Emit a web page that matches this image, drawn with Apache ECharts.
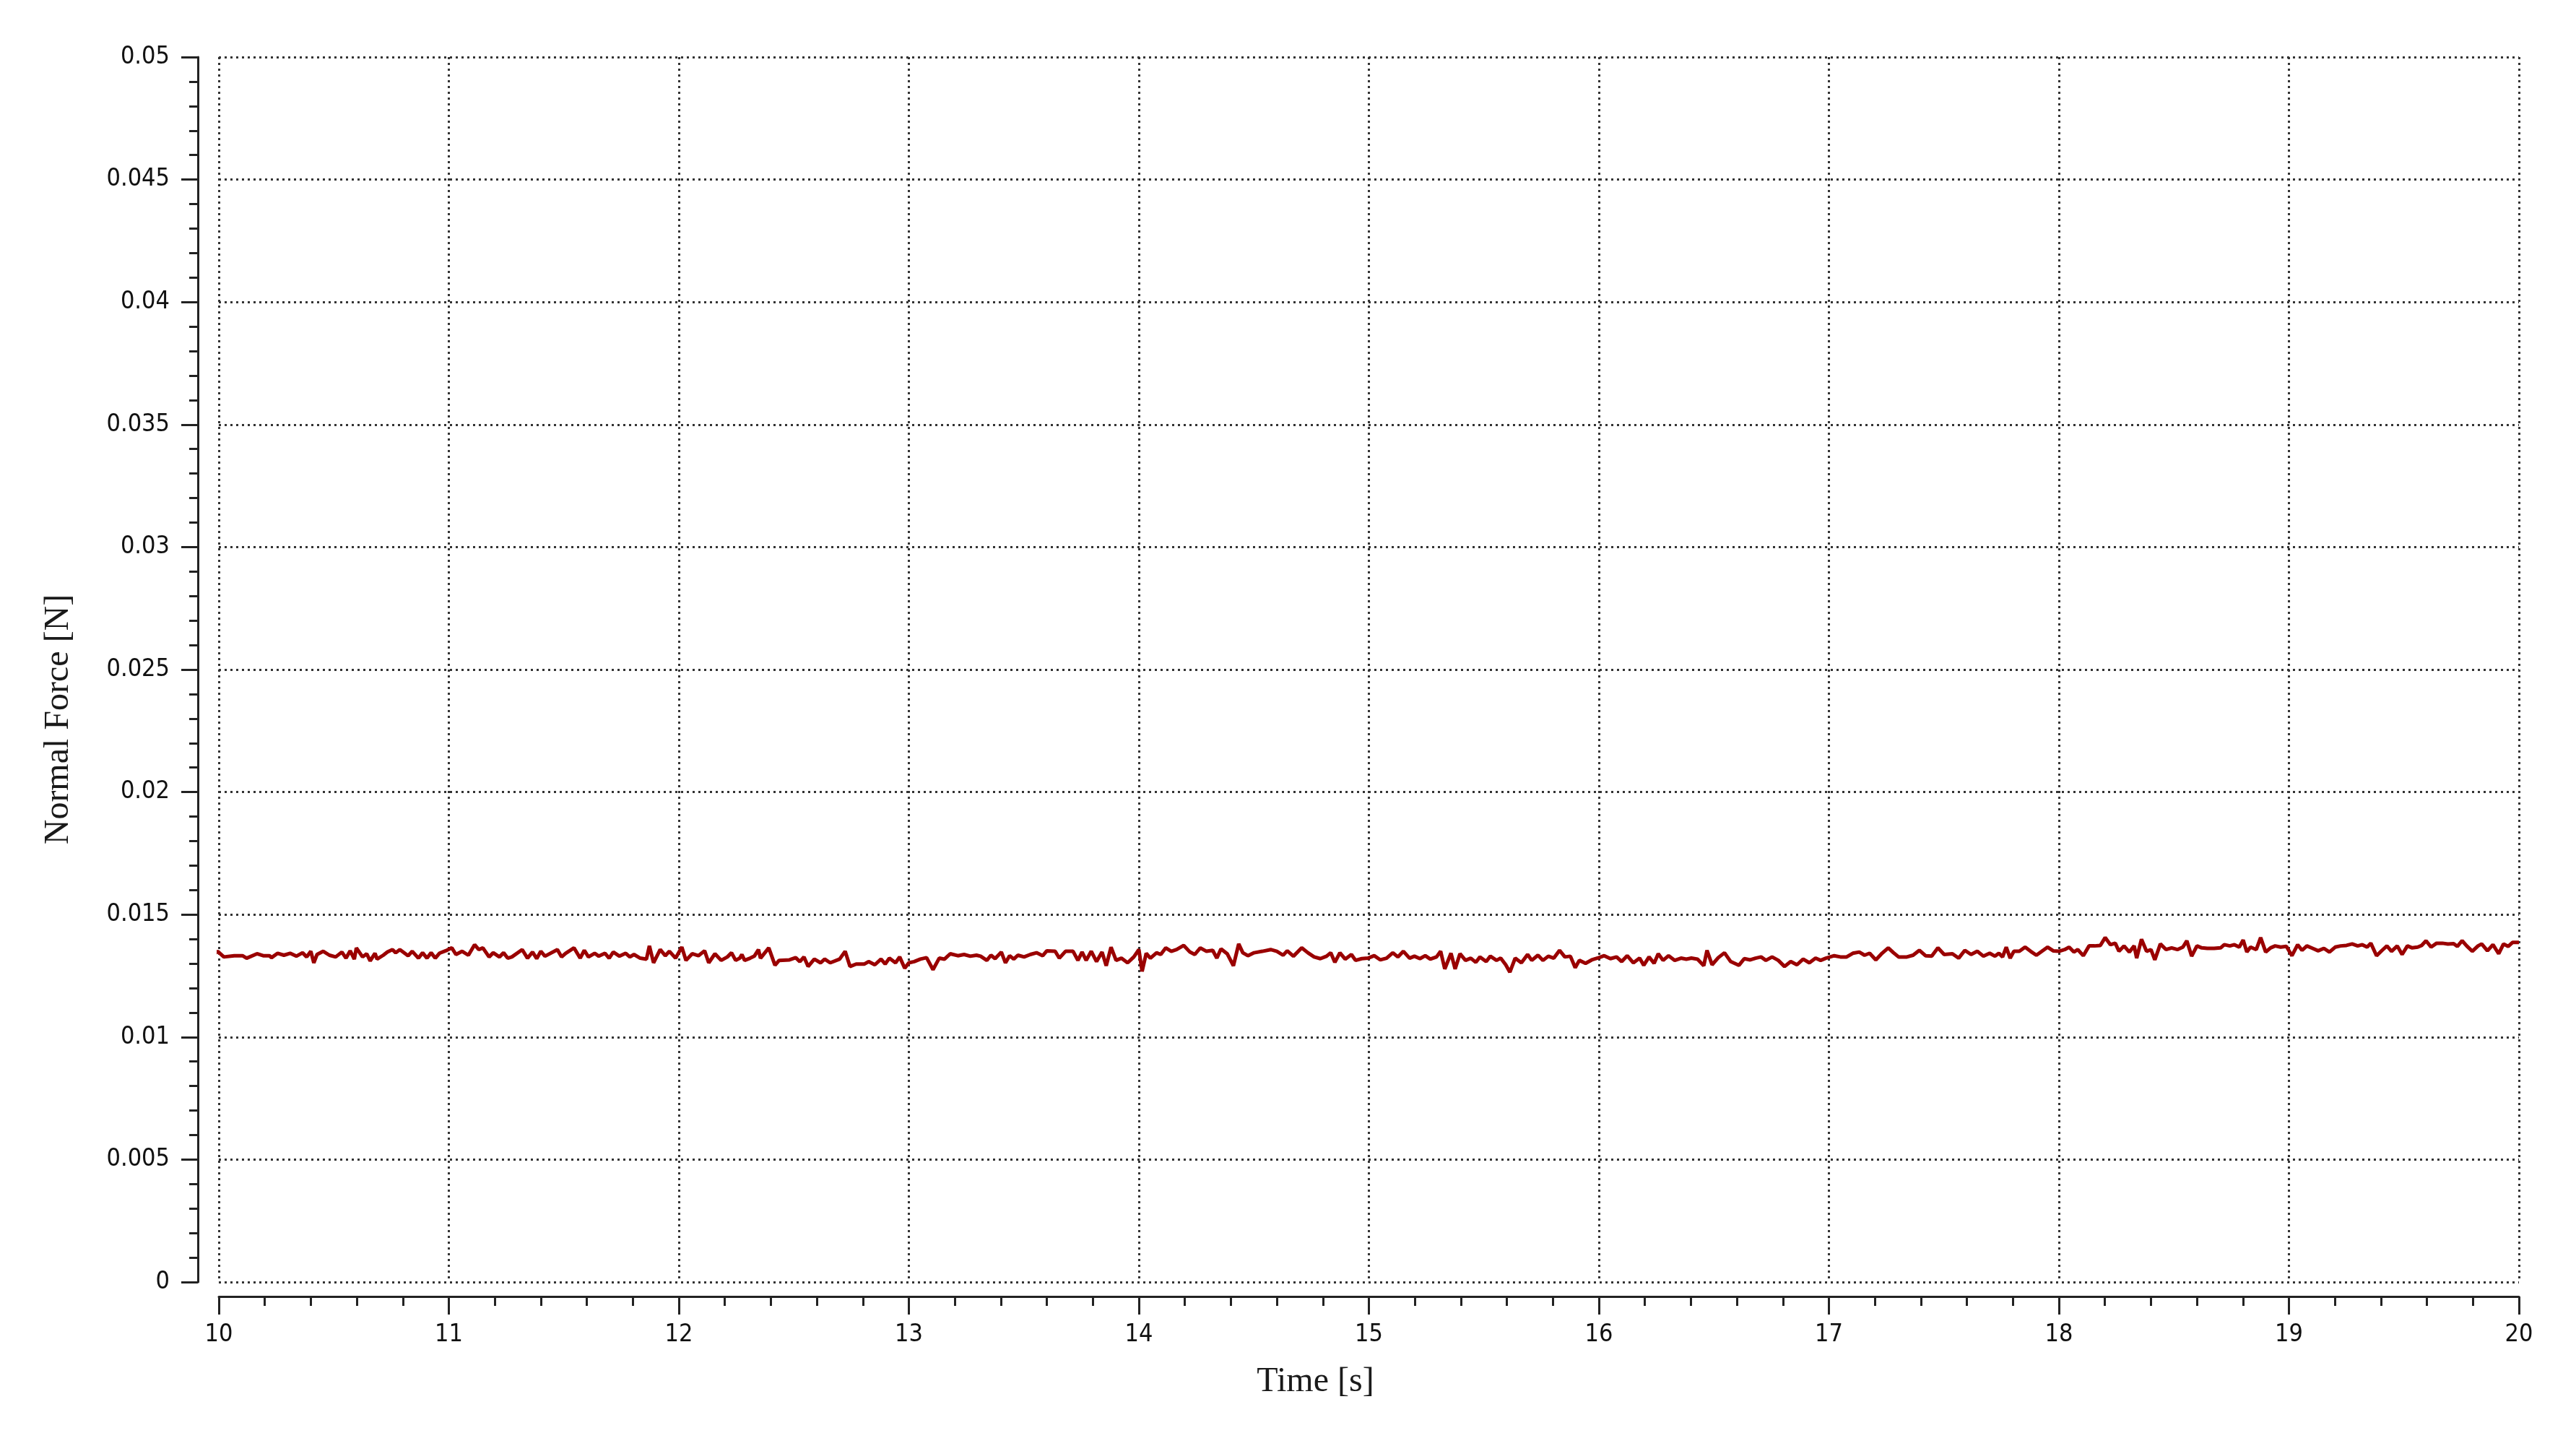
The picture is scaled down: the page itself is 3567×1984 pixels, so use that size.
<!DOCTYPE html>
<html>
<head>
<meta charset="utf-8">
<script src="https://cdn.jsdelivr.net/npm/echarts@6/dist/echarts.min.js"></script>
<style>
  html, body { margin: 0; padding: 0; background: #fff; }
  #chart { width: 3567px; height: 1984px; }
</style>
</head>
<body>
<div id="chart"></div>
<script>
// time [s] of each sample
const times = [
  9.932, 9.950, 9.995, 10.022, 10.067, 10.103, 10.121, 10.166, 10.193, 10.220,
  10.229, 10.256, 10.283, 10.310, 10.337, 10.364, 10.382, 10.400, 10.413, 10.427,
  10.454, 10.481, 10.508, 10.535, 10.553, 10.571, 10.589, 10.598, 10.625, 10.643,
  10.658, 10.679, 10.688, 10.715, 10.733, 10.755, 10.769, 10.787, 10.823, 10.841,
  10.868, 10.886, 10.905, 10.923, 10.941, 10.959, 10.986, 11.013, 11.031, 11.058,
  11.085, 11.112, 11.130, 11.148, 11.175, 11.193, 11.220, 11.238, 11.256, 11.274,
  11.319, 11.342, 11.364, 11.382, 11.400, 11.418, 11.472, 11.490, 11.508, 11.544,
  11.571, 11.589, 11.607, 11.634, 11.652, 11.679, 11.697, 11.715, 11.742, 11.769,
  11.787, 11.805, 11.832, 11.859, 11.872, 11.890, 11.919, 11.941, 11.959, 11.986,
  12.013, 12.031, 12.058, 12.085, 12.112, 12.130, 12.157, 12.184, 12.211, 12.229,
  12.247, 12.265, 12.274, 12.286, 12.310, 12.328, 12.346, 12.355, 12.391, 12.418,
  12.436, 12.481, 12.508, 12.526, 12.544, 12.562, 12.589, 12.616, 12.634, 12.658,
  12.699, 12.723, 12.744, 12.771, 12.807, 12.825, 12.852, 12.879, 12.897, 12.915,
  12.942, 12.960, 12.982, 13.000, 13.023, 13.050, 13.077, 13.105, 13.132, 13.155,
  13.180, 13.213, 13.240, 13.267, 13.294, 13.312, 13.339, 13.357, 13.375, 13.402,
  13.420, 13.438, 13.456, 13.474, 13.501, 13.528, 13.555, 13.582, 13.600, 13.636,
  13.654, 13.681, 13.714, 13.735, 13.753, 13.771, 13.793, 13.816, 13.840, 13.858,
  13.879, 13.901, 13.924, 13.951, 13.978, 14.000, 14.014, 14.032, 14.050, 14.077,
  14.095, 14.117, 14.141, 14.164, 14.195, 14.222, 14.243, 14.267, 14.294, 14.321,
  14.339, 14.357, 14.384, 14.411, 14.434, 14.452, 14.474, 14.501, 14.537, 14.573,
  14.600, 14.627, 14.645, 14.672, 14.708, 14.735, 14.762, 14.789, 14.816, 14.834,
  14.852, 14.874, 14.897, 14.924, 14.942, 14.969, 14.996, 15.023, 15.050, 15.077,
  15.104, 15.126, 15.150, 15.177, 15.198, 15.222, 15.245, 15.267, 15.294, 15.312,
  15.330, 15.357, 15.375, 15.396, 15.420, 15.443, 15.465, 15.483, 15.510, 15.528,
  15.555, 15.573, 15.595, 15.613, 15.636, 15.663, 15.690, 15.708, 15.735, 15.757,
  15.780, 15.804, 15.829, 15.852, 15.876, 15.897, 15.915, 15.942, 15.969, 16.000,
  16.023, 16.050, 16.077, 16.099, 16.123, 16.150, 16.177, 16.195, 16.218, 16.240,
  16.258, 16.279, 16.303, 16.330, 16.357, 16.380, 16.402, 16.429, 16.456, 16.470,
  16.492, 16.519, 16.546, 16.573, 16.609, 16.632, 16.658, 16.681, 16.705, 16.726,
  16.753, 16.780, 16.807, 16.834, 16.861, 16.888, 16.915, 16.942, 16.964, 16.987,
  17.023, 17.050, 17.077, 17.104, 17.132, 17.155, 17.177, 17.204, 17.231, 17.258,
  17.281, 17.303, 17.339, 17.366, 17.393, 17.420, 17.447, 17.474, 17.501, 17.537,
  17.564, 17.591, 17.618, 17.645, 17.672, 17.699, 17.722, 17.739, 17.755, 17.771,
  17.788, 17.804, 17.828, 17.853, 17.877, 17.902, 17.926, 17.951, 17.975, 18.000,
  18.025, 18.044, 18.065, 18.082, 18.106, 18.131, 18.155, 18.180, 18.201, 18.224,
  18.245, 18.261, 18.283, 18.306, 18.327, 18.338, 18.359, 18.381, 18.400, 18.417,
  18.441, 18.466, 18.490, 18.515, 18.539, 18.556, 18.577, 18.600, 18.621, 18.645,
  18.675, 18.703, 18.719, 18.743, 18.763, 18.784, 18.801, 18.817, 18.833, 18.858,
  18.877, 18.899, 18.920, 18.940, 18.964, 18.989, 19.013, 19.038, 19.057, 19.078,
  19.103, 19.127, 19.152, 19.176, 19.201, 19.225, 19.250, 19.275, 19.299, 19.319,
  19.340, 19.356, 19.381, 19.405, 19.426, 19.446, 19.471, 19.492, 19.515, 19.536,
  19.560, 19.577, 19.596, 19.618, 19.642, 19.667, 19.691, 19.716, 19.732, 19.753,
  19.773, 19.797, 19.822, 19.838, 19.863, 19.887, 19.912, 19.933, 19.953, 19.972,
  20.000
]

// normal force [N]
const force = [
  0.01327, 0.01315, 0.01350, 0.01327, 0.01332, 0.01332, 0.01322, 0.01340, 0.01332, 0.01332,
  0.01324, 0.01342, 0.01334, 0.01342, 0.01330, 0.01344, 0.01327, 0.01350, 0.01303, 0.01337,
  0.01350, 0.01334, 0.01327, 0.01347, 0.01322, 0.01352, 0.01318, 0.01364, 0.01327, 0.01340,
  0.01311, 0.01342, 0.01318, 0.01334, 0.01347, 0.01357, 0.01344, 0.01357, 0.01332, 0.01350,
  0.01322, 0.01344, 0.01322, 0.01344, 0.01322, 0.01342, 0.01352, 0.01364, 0.01337, 0.01350,
  0.01334, 0.01377, 0.01357, 0.01364, 0.01327, 0.01344, 0.01327, 0.01344, 0.01322, 0.01327,
  0.01357, 0.01322, 0.01347, 0.01320, 0.01350, 0.01330, 0.01357, 0.01327, 0.01342, 0.01364,
  0.01322, 0.01354, 0.01327, 0.01342, 0.01330, 0.01342, 0.01322, 0.01347, 0.01330, 0.01342,
  0.01327, 0.01337, 0.01322, 0.01318, 0.01372, 0.01303, 0.01357, 0.01332, 0.01350, 0.01322,
  0.01367, 0.01313, 0.01340, 0.01332, 0.01352, 0.01303, 0.01340, 0.01313, 0.01327, 0.01344,
  0.01313, 0.01322, 0.01337, 0.01313, 0.01322, 0.01330, 0.01357, 0.01322, 0.01364, 0.01293,
  0.01313, 0.01315, 0.01324, 0.01308, 0.01327, 0.01288, 0.01318, 0.01303, 0.01318, 0.01303,
  0.01318, 0.01350, 0.01288, 0.01298, 0.01298, 0.01308, 0.01295, 0.01318, 0.01298, 0.01322,
  0.01303, 0.01327, 0.01281, 0.01303, 0.01308, 0.01318, 0.01324, 0.01275, 0.01322, 0.01318,
  0.01340, 0.01332, 0.01337, 0.01330, 0.01334, 0.01330, 0.01313, 0.01334, 0.01320, 0.01347,
  0.01303, 0.01332, 0.01318, 0.01334, 0.01327, 0.01337, 0.01344, 0.01332, 0.01352, 0.01350,
  0.01322, 0.01350, 0.01350, 0.01313, 0.01347, 0.01313, 0.01350, 0.01308, 0.01347, 0.01291,
  0.01367, 0.01313, 0.01322, 0.01303, 0.01327, 0.01357, 0.01268, 0.01342, 0.01322, 0.01344,
  0.01337, 0.01364, 0.01350, 0.01357, 0.01374, 0.01347, 0.01337, 0.01364, 0.01350, 0.01354,
  0.01322, 0.01360, 0.01340, 0.01291, 0.01380, 0.01344, 0.01332, 0.01344, 0.01350, 0.01357,
  0.01350, 0.01334, 0.01352, 0.01330, 0.01364, 0.01344, 0.01327, 0.01320, 0.01330, 0.01344,
  0.01305, 0.01344, 0.01318, 0.01337, 0.01313, 0.01320, 0.01322, 0.01332, 0.01315, 0.01322,
  0.01344, 0.01327, 0.01350, 0.01322, 0.01330, 0.01320, 0.01332, 0.01318, 0.01327, 0.01350,
  0.01278, 0.01342, 0.01278, 0.01340, 0.01313, 0.01322, 0.01305, 0.01327, 0.01308, 0.01330,
  0.01313, 0.01322, 0.01295, 0.01265, 0.01322, 0.01303, 0.01337, 0.01313, 0.01334, 0.01313,
  0.01330, 0.01322, 0.01354, 0.01327, 0.01330, 0.01283, 0.01313, 0.01301, 0.01315, 0.01324,
  0.01332, 0.01320, 0.01327, 0.01308, 0.01332, 0.01303, 0.01322, 0.01293, 0.01327, 0.01301,
  0.01340, 0.01313, 0.01332, 0.01313, 0.01322, 0.01318, 0.01322, 0.01318, 0.01291, 0.01354,
  0.01295, 0.01324, 0.01344, 0.01308, 0.01293, 0.01320, 0.01315, 0.01322, 0.01327, 0.01313,
  0.01327, 0.01313, 0.01288, 0.01308, 0.01295, 0.01318, 0.01303, 0.01322, 0.01313, 0.01322,
  0.01332, 0.01327, 0.01327, 0.01342, 0.01347, 0.01334, 0.01342, 0.01315, 0.01342, 0.01364,
  0.01344, 0.01327, 0.01327, 0.01334, 0.01354, 0.01332, 0.01330, 0.01364, 0.01337, 0.01340,
  0.01322, 0.01354, 0.01337, 0.01350, 0.01330, 0.01342, 0.01330, 0.01342, 0.01327, 0.01367,
  0.01322, 0.01350, 0.01350, 0.01367, 0.01350, 0.01334, 0.01350, 0.01367, 0.01352, 0.01350,
  0.01357, 0.01367, 0.01347, 0.01357, 0.01332, 0.01372, 0.01372, 0.01374, 0.01406, 0.01377,
  0.01383, 0.01350, 0.01372, 0.01347, 0.01372, 0.01322, 0.01399, 0.01350, 0.01357, 0.01315,
  0.01380, 0.01357, 0.01364, 0.01357, 0.01367, 0.01393, 0.01330, 0.01372, 0.01364, 0.01362,
  0.01362, 0.01364, 0.01377, 0.01372, 0.01377, 0.01367, 0.01396, 0.01347, 0.01367, 0.01357,
  0.01406, 0.01347, 0.01364, 0.01372, 0.01367, 0.01370, 0.01332, 0.01377, 0.01354, 0.01372,
  0.01362, 0.01352, 0.01362, 0.01347, 0.01367, 0.01372, 0.01374, 0.01380, 0.01372, 0.01377,
  0.01367, 0.01383, 0.01332, 0.01354, 0.01372, 0.01350, 0.01372, 0.01337, 0.01372, 0.01364,
  0.01367, 0.01374, 0.01393, 0.01367, 0.01383, 0.01383, 0.01380, 0.01381, 0.01370, 0.01393,
  0.01372, 0.01350, 0.01372, 0.01380, 0.01352, 0.01377, 0.01340, 0.01380, 0.01370, 0.01386,
  0.01386
]

const xMin = 10, xMax = 20, xStep = 1
const yMin = 0, yMax = 0.05, yStep = 0.005

let myChart = echarts.init(document.getElementById('chart'))
myChart.setOption({
  animation: false,
  backgroundColor: '#fff',
  grid: {
    left: 303,
    right: 79,
    top: 79,
    bottom: 209,
    containLabel: false
  },
  xAxis: {
    type: 'value',
    min: xMin,
    max: xMax,
    interval: xStep,
    offset: 20,
    name: 'Time [s]',
    nameLocation: 'middle',
    nameGap: 94,
    nameTextStyle: {
      fontFamily: 'Liberation Serif',
      fontSize: 48,
      color: '#1a1a1a',
      padding: [0, 148, 0, 0]
    },
    axisLine: { show: true, onZero: false, lineStyle: { color: '#222', width: 3 } },
    axisTick: { show: true, inside: false, length: 25, lineStyle: { color: '#222', width: 3 } },
    minorTick: { show: true, splitNumber: 5, length: 13, lineStyle: { color: '#222', width: 3 } },
    axisLabel: {
      margin: 36,
      fontFamily: 'DejaVu Sans Condensed, DejaVu Sans',
      fontSize: 34,
      color: '#111'
    },
    splitLine: {
      show: true,
      lineStyle: { color: '#333', width: 3, type: [3, 5] }
    }
  },
  yAxis: {
    type: 'value',
    min: yMin,
    max: yMax,
    interval: yStep,
    offset: 29,
    name: 'Normal Force [N]',
    nameLocation: 'middle',
    nameGap: 169,
    nameTextStyle: {
      fontFamily: 'Liberation Serif',
      fontSize: 48,
      color: '#1a1a1a',
      padding: [0, 138, 0, 0]
    },
    axisLine: { show: true, lineStyle: { color: '#222', width: 3 } },
    axisTick: { show: true, inside: false, length: 23, lineStyle: { color: '#222', width: 3 } },
    minorTick: { show: true, splitNumber: 5, length: 12, lineStyle: { color: '#222', width: 3 } },
    axisLabel: {
      margin: 39,
      fontFamily: 'DejaVu Sans Condensed, DejaVu Sans',
      fontSize: 34,
      color: '#111',
      formatter: function (v) {
        return String(parseFloat(v.toFixed(4)))
      }
    },
    splitLine: {
      show: true,
      lineStyle: { color: '#333', width: 3, type: [3, 5] }
    }
  },
  series: [
    {
      name: 'Normal Force',
      type: 'line',
      showSymbol: false,
      clip: false,
      lineStyle: { color: '#9a0000', width: 5 },
      data: times.map((t, i) => [t, force[i]])
    }
  ]
})
</script>
</body>
</html>
